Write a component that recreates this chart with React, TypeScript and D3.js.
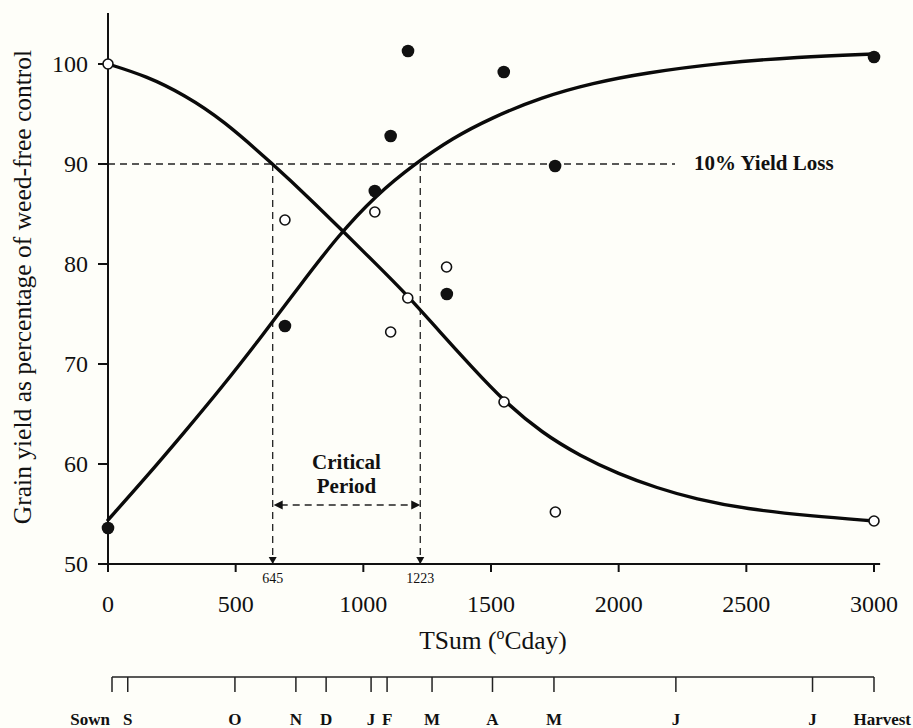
import React from "react";
import * as d3 from "d3";

// observed points (TSum °Cday, % of weed-free yield)
const weedyTSum = [0, 693, 1045, 1107, 1174, 1326, 1551, 1752, 3000];
const weedyYield = [100, 84.4, 85.2, 73.2, 76.6, 79.7, 66.2, 55.2, 54.3];
const freeTSum = [0, 693, 1045, 1107, 1175, 1327, 1550, 1751, 3000];
const freeYield = [53.6, 73.8, 87.3, 92.8, 101.3, 77.0, 99.2, 89.8, 100.7];

// fitted curves
const declineTSum = [0, 150, 300, 450, 645, 800, 915, 1050, 1175, 1300, 1425, 1550, 1700, 1850, 2000, 2150, 2300, 2500, 2750, 3000];
const declineYield = [100, 98.8, 96.9, 94.4, 90.0, 86.3, 83.4, 80.0, 76.8, 73.2, 69.7, 66.3, 63.1, 60.8, 59.0, 57.6, 56.5, 55.5, 54.8, 54.3];
const riseTSum = [0, 150, 300, 450, 600, 750, 900, 1050, 1200, 1350, 1500, 1700, 1900, 2100, 2400, 2700, 3000];
const riseYield = [54.4, 58.7, 63.2, 67.8, 72.7, 77.8, 82.8, 86.9, 90.0, 92.6, 94.6, 96.7, 98.1, 99.1, 100.1, 100.7, 101.0];

const xTicks = [0, 500, 1000, 1500, 2000, 2500, 3000];
const yTicks = [50, 60, 70, 80, 90, 100];
const lossLevel = 90;
const critical = [645, 1223];

const monthLabels = ["Sown", "S", "O", "N", "D", "J", "F", "M", "A", "M", "J", "J", "Harvest"];
const monthTSum = [0, 62, 484, 724, 843, 1020, 1083, 1260, 1498, 1740, 2220, 2758, 3000];

const W = 913;
const H = 728;
const serif = "'Liberation Serif', 'Times New Roman', serif";

export default function App() {
  const x = d3.scaleLinear().domain([0, 3000]).range([108, 874]);
  const y = d3.scaleLinear().domain([50, 100]).range([564, 64]);
  const t = d3.scaleLinear().domain([0, 3000]).range([112, 874]);

  const line = d3
    .line<[number, number]>()
    .x((d) => x(d[0]))
    .y((d) => y(d[1]))
    .curve(d3.curveBasis);

  const decline = line(declineTSum.map((v, i) => [v, declineYield[i]]));
  const rise = line(riseTSum.map((v, i) => [v, riseYield[i]]));

  const y0 = y(50);
  const y90 = y(lossLevel);
  const [c0, c1] = critical.map((c) => x(c));
  const arrowY = 505;
  const dash = "7 5";

  return (
    <svg
      width={W}
      height={H}
      style={{ position: "absolute", left: 0, top: 0, background: "#fefef9" }}
      fontFamily={serif}
    >
      {/* 10% loss line and critical period markers */}
      <g stroke="#222" strokeWidth={1.3} strokeDasharray={dash} fill="none">
        <line x1={x(0)} x2={675} y1={y90} y2={y90} />
        <line x1={c0} x2={c0} y1={y90} y2={y0} />
        <line x1={c1} x2={c1} y1={y90} y2={y0} />
        <line x1={c0 + 8} x2={c1 - 8} y1={arrowY} y2={arrowY} />
      </g>
      <g fill="#111">
        <path d={`M${c0 + 1},${arrowY} l9,-4.5 l0,9 z`} />
        <path d={`M${c1},${arrowY} l-9,-4.5 l0,9 z`} />
        <path d={`M${c0},${y0} l-4,-7 l8,0 z`} />
        <path d={`M${c1},${y0} l-4,-7 l8,0 z`} />
      </g>
      <text x={694} y={170} fontSize={21} fontWeight="bold" fill="#111">
        10% Yield Loss
      </text>
      <g fontSize={21} fontWeight="bold" fill="#111" textAnchor="middle">
        <text x={(c0 + c1) / 2} y={469}>Critical</text>
        <text x={(c0 + c1) / 2} y={493}>Period</text>
      </g>
      <g fontSize={14} fill="#111" textAnchor="middle">
        <text x={c0} y={583}>{critical[0]}</text>
        <text x={c1} y={583}>{critical[1]}</text>
      </g>

      {/* axes */}
      <g stroke="#111" strokeWidth={2} fill="none">
        <line x1={x(0)} x2={x(0)} y1={y(105.1)} y2={y0} />
        <line x1={x(0)} x2={x(3024)} y1={y0} y2={y0} />
        {yTicks.map((v) => (
          <line key={v} x1={x(0) - 10} x2={x(0)} y1={y(v)} y2={y(v)} />
        ))}
        {xTicks.map((v) => (
          <line key={v} x1={x(v)} x2={x(v)} y1={y0} y2={y0 + 8} />
        ))}
      </g>
      <g fontSize={24} fill="#111">
        {yTicks.map((v) => (
          <text key={v} x={x(0) - 20} y={y(v)} dy="0.35em" textAnchor="end">
            {v}
          </text>
        ))}
        {xTicks.map((v) => (
          <text key={v} x={x(v)} y={612} textAnchor="middle">
            {v}
          </text>
        ))}
      </g>
      <text
        transform="translate(31,287) rotate(-90)"
        fontSize={25.5}
        fill="#111"
        textAnchor="middle"
      >
        Grain yield as percentage of weed-free control
      </text>
      <text x={493} y={649} fontSize={25.5} fill="#111" textAnchor="middle">
        TSum (<tspan fontSize={16} dy={-10}>o</tspan>
        <tspan dy={10}>Cday)</tspan>
      </text>

      {/* fitted curves */}
      <g fill="none" stroke="#0a0a0a" strokeWidth={3.4} strokeLinecap="round">
        <path d={decline ?? ""} />
        <path d={rise ?? ""} />
      </g>

      {/* points */}
      {weedyTSum.map((v, i) => (
        <circle
          key={"o" + i}
          cx={x(v)}
          cy={y(weedyYield[i])}
          r={5}
          fill="#fff"
          stroke="#111"
          strokeWidth={1.6}
        />
      ))}
      {freeTSum.map((v, i) => (
        <circle key={"f" + i} cx={x(v)} cy={y(freeYield[i])} r={6.3} fill="#111" />
      ))}

      {/* crop calendar */}
      <g stroke="#222" strokeWidth={1.5} fill="none">
        <line x1={t(0)} x2={t(3000)} y1={677} y2={677} />
        {monthTSum.map((v, i) => (
          <line key={i} x1={t(v)} x2={t(v)} y1={677} y2={692} />
        ))}
      </g>
      <g fontSize={17} fontWeight="bold" fill="#111">
        {monthLabels.map((m, i) => {
          const first = i === 0;
          const last = i === monthLabels.length - 1;
          return (
            <text
              key={i}
              x={first ? t(monthTSum[i]) - 2 : last ? W - 2 : t(monthTSum[i])}
              y={725}
              textAnchor={first || last ? "end" : "middle"}
            >
              {m}
            </text>
          );
        })}
      </g>
    </svg>
  );
}
